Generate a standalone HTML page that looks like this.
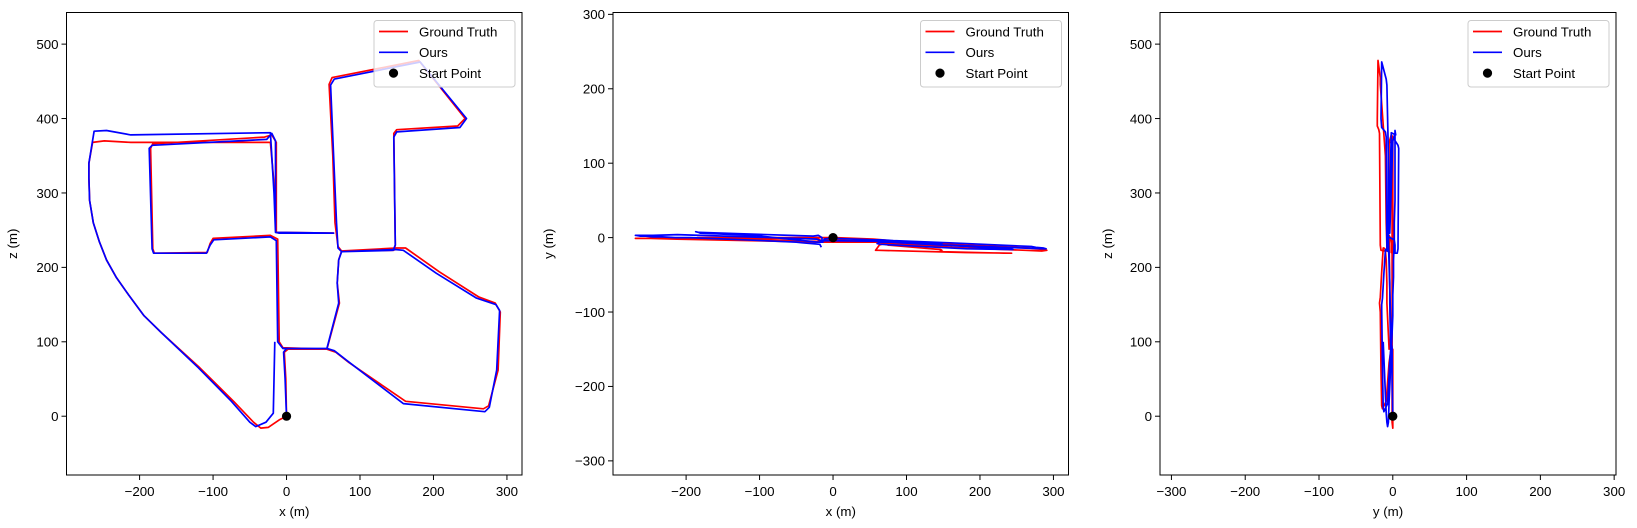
<!DOCTYPE html>
<html><head><meta charset="utf-8"><style>
body{margin:0;background:#fff;}
svg{display:block;font-family:"Liberation Sans","DejaVu Sans",sans-serif;}
</style></head><body>
<svg id="fig" width="1637" height="528" viewBox="0 0 1637 528" xmlns="http://www.w3.org/2000/svg"></svg>
<script>
// Ours (estimated) trajectory: x, y, z in metres
const oursX = [0,-2,-4,0,55,65,82,159,270,276,
 286,290,285,258,204,159,148,75,70,68,
 64,60,65,182,245,236,150,146,148,145,
 75,71,69,71,55,-5,-12,-14,-22,-99,
 -104,-109,-181,-183,-187,-183,-27,-20,-15,-15,
 -10,64,-15,-17,-22,-212,-245,-262,-269,-269,
 -268,-263,-255,-245,-232,-215,-194,-170,-120,-75,
 -50,-42,-28,-18,-16];
const oursY = [0,-1,-1,-1,-3,-3,-4,-7,-12,-13,
 -14,-15,-15,-14,-12,-10,-10,-6,-6,-6,
 -6,-8,-9,-15,-16,-15,-10,-9,-8,-8,
 -5,-5,-4,-4,-3,-1,-2,-6,-6,2,
 3,3,6,7,8,7,2,3,0,-4,
 -4,-5,-4,-4,-2,4,3,3,3,3,
 3,2,2,1,1,0,0,-1,-3,-5,
 -6,-7,-8,-9,-13];
const oursZ = [0,50,86,91,91,88,75,17,6,12,
 62,142,150,159,192,223,224,221,226,260,
 350,445,453,476,400,388,382,375,230,223,
 221,210,179,152,91,91,100,236,241,237,
 230,219,219,225,360,364,372,380,370,247,
 246,246,247,300,381,378,384,383,340,320,
 290,260,235,210,187,163,135,112,65,20,
 -8,-14,-8,4,100];
// Ground truth trajectory
const gtX = [0,-1,-3,2,55,67,85,162,268,275,
 288,291,284,262,208,162,150,75,70,66,
 63,58,62,180,243,233,150,146,148,146,
 75,71,69,72,55,-5,-10,-12,-22,-100,
 -104,-108,-180,-182,-185,-182,-30,-20,-14,-14,
 -10,64,-14,-16,-22,-212,-248,-264,-269,-269,
 -268,-263,-255,-245,-232,-215,-194,-170,-118,-72,
 -45,-35,-25,-10,0];
const gtY = [0,0,0,0,-2,-3,-5,-9,-14,-15,
 -16,-17,-18,-17,-15,-13,-12,-8,-8,-9,
 -10,-17,-17,-20,-21,-21,-19,-18,-17,-16,
 -10,-9,-8,-8,-5,-3,-3,-5,-5,-3,
 -2,-2,-1,0,0,0,0,-2,-5,-6,
 -6,-6,-6,-6,-6,-2,-1,-1,-1,-1,
 -1,-1,-1,-1,-1,-1,-1,-1,-1,-1,
 -1,0,0,0,0];
const gtZ = [0,50,86,90,90,86,72,20,10,14,
 62,140,152,160,194,226,226,222,228,260,
 350,446,455,478,400,390,385,380,230,223,
 222,210,179,152,90,92,100,238,243,239,
 232,220,219,225,360,366,375,378,368,247,
 246,246,247,300,368,368,370,368,340,320,
 290,260,235,210,187,163,135,112,65,20,
 -8,-16,-15,-5,0];
// ticks
const ticks1X = [-200,-100,0,100,200,300];
const ticks1Z = [0,100,200,300,400,500];
const ticks2X = [-200,-100,0,100,200,300];
const ticks2Y = [-300,-200,-100,0,100,200,300];
const ticks3Y = [-300,-200,-100,0,100,200,300];
const legendLabels = ["Ground Truth","Ours","Start Point"];

const NS="http://www.w3.org/2000/svg";
const svg=document.getElementById('fig');
function el(tag,attrs,parent){const e=document.createElementNS(NS,tag);for(const k in attrs)e.setAttribute(k,attrs[k]);(parent||svg).appendChild(e);return e;}
function fmt(v){return v<0?'\u2212'+(-v):''+v;}

const panels=[
 {name:'xz',L:66.5,R:522,T:12.5,B:475,xmin:-299.5,xmax:320.5,ymin:-79,ymax:542.5,xs:[gtX,oursX],ys:[gtZ,oursZ],xt:ticks1X,yt:ticks1Z,xl:'x (m)',yl:'z (m)',ylx:17},
 {name:'xy',L:613,R:1068.5,T:12.5,B:475,xmin:-299.5,xmax:320.5,ymin:-319,ymax:302.5,xs:[gtX,oursX],ys:[gtY,oursY],xt:ticks2X,yt:ticks2Y,xl:'x (m)',yl:'y (m)',ylx:553},
 {name:'yz',L:1160,R:1616,T:12.5,B:475,xmin:-315.5,xmax:302.5,ymin:-79,ymax:542.5,xs:[gtY,oursY],ys:[gtZ,oursZ],xt:ticks3Y,yt:ticks1Z,xl:'y (m)',yl:'z (m)',ylx:1112}
];
const colors=['#ff0000','#0000ff'];
const sNames=['ground-truth','ours'];
panels.forEach((p,pi)=>{
 const g=el('g',{});
 
 
 const sx=v=>p.L+(v-p.xmin)/(p.xmax-p.xmin)*(p.R-p.L);
 const sy=v=>p.B-(v-p.ymin)/(p.ymax-p.ymin)*(p.B-p.T);
 const clipId='clip'+pi;
 const cp=el('clipPath',{id:clipId},g);
 el('rect',{x:p.L,y:p.T,width:p.R-p.L,height:p.B-p.T},cp);
 for(let s=0;s<2;s++){
  const X=p.xs[s],Y=p.ys[s];
  let d='';
  for(let i=0;i<X.length;i++)d+=(i?'L':'M')+sx(X[i]).toFixed(1)+' '+sy(Y[i]).toFixed(1);
  const path=el('path',{d:d,fill:'none',stroke:colors[s],'stroke-width':1.7,'stroke-linejoin':'round','clip-path':'url(#'+clipId+')'},g);
  
  
 }
 const sp=el('circle',{cx:sx(p.xs[0][0]),cy:sy(p.ys[0][0]),r:4.6,fill:'#000'},g);
 
 
 const fr=el('rect',{x:p.L,y:p.T,width:p.R-p.L,height:p.B-p.T,fill:'none',stroke:'#000','stroke-width':1},g);
 
 
 p.xt.forEach(t=>{
  const x=sx(t);
  el('line',{x1:x,y1:p.B,x2:x,y2:p.B+5,stroke:'#000','stroke-width':1},g);
  const tx=el('text',{x:x,y:p.B+21,'font-size':13.3,'text-anchor':'middle'},g);
  tx.textContent=fmt(t);
  
  
 });
 p.yt.forEach(t=>{
  const y=sy(t);
  el('line',{x1:p.L-5,y1:y,x2:p.L,y2:y,stroke:'#000','stroke-width':1},g);
  const tx=el('text',{x:p.L-8,y:y+4.8,'font-size':13.3,'text-anchor':'end'},g);
  tx.textContent=fmt(t);
  
  
 });
 const xl=el('text',{x:(p.L+p.R)/2,y:516,'font-size':13.3,'text-anchor':'middle'},g);
 xl.textContent=p.xl;
 
 
 const yl=el('text',{x:p.ylx,y:(p.T+p.B)/2,'font-size':13.3,'text-anchor':'middle',transform:'rotate(-90 '+p.ylx+' '+(p.T+p.B)/2+')'},g);
 yl.textContent=p.yl;
 
 
 const lg=el('g',{},g);
 
 
 const lx=p.R-148, ly=20.5;
 el('rect',{x:lx,y:ly,width:141,height:66.5,rx:3,fill:'#fff','fill-opacity':0.8,stroke:'#cccccc','stroke-width':1},lg);
 legendLabels.forEach((lab,i)=>{
  const ry=ly+11+i*20.8;
  if(i<2) el('line',{x1:lx+5,y1:ry,x2:lx+34,y2:ry,stroke:colors[i],'stroke-width':1.7},lg);
  else el('circle',{cx:lx+19.5,cy:ry,r:4.6,fill:'#000'},lg);
  const t=el('text',{x:lx+45,y:ry+4.8,'font-size':13.3},lg);
  t.textContent=lab;
  
  
 });
});
</script>
</body></html>
